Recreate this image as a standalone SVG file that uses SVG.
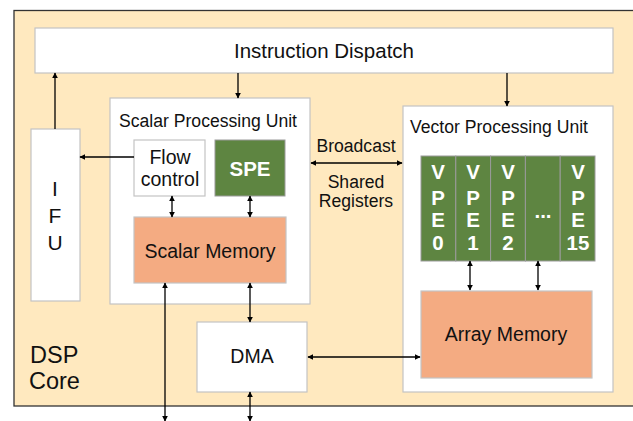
<svg xmlns="http://www.w3.org/2000/svg" width="633" height="421" viewBox="0 0 633 421">
  <style>
    text { font-family: "Liberation Sans", Arial, sans-serif; fill: #111; }
    .box { fill: #fff; stroke: #c4c4c4; stroke-width: 1.2; }
    .green { fill: #5e8541; stroke: #9a9a9a; stroke-width: 1; }
    .mem { fill: #f4ab82; stroke: #c4c4c4; stroke-width: 1.2; }
    .lbl { font-size: 17.6px; }
    .big { font-size: 20.5px; }
    .body { font-size: 19.5px; }
    .wt { fill: #fff; font-weight: bold; font-size: 20.5px; text-anchor: middle; }
    .mid { text-anchor: middle; }
    .wire { stroke: #000; stroke-width: 1.3; fill: none; }
  </style>
  <defs>
    <marker id="ah" viewBox="0 0 10 10" refX="9" refY="5" markerWidth="6" markerHeight="6" orient="auto-start-reverse" markerUnits="userSpaceOnUse">
      <path d="M0,0 L10,5 L0,10 z" fill="#000"/>
    </marker>
  </defs>

  <rect width="633" height="421" fill="#fff"/>

  <!-- DSP core container -->
  <g id="dsp-core">
    <rect x="14" y="10.5" width="630" height="395.5" fill="#ffe9bf" stroke="#333" stroke-width="1.3"/>
    <text x="30" y="363" font-size="23.5">DSP</text>
    <text x="29" y="389" font-size="23.5">Core</text>
  </g>

  <g id="instruction-dispatch">
    <rect class="box" x="35" y="28" width="578" height="45"/>
    <text class="big mid" x="324" y="58">Instruction Dispatch</text>
  </g>

  <g id="ifu">
    <rect class="box" x="31" y="129" width="49" height="172"/>
    <text class="mid" x="55" y="196" font-size="21">I</text>
    <text class="mid" x="55" y="223" font-size="21">F</text>
    <text class="mid" x="55" y="250" font-size="21">U</text>
  </g>

  <g id="scalar-unit">
    <rect class="box" x="110" y="98" width="200" height="206"/>
    <text class="lbl" x="119" y="127">Scalar Processing Unit</text>
  </g>

  <g id="flow-control">
    <rect class="box" x="134" y="140" width="71" height="56"/>
    <text class="body mid" x="170" y="164">Flow</text>
    <text class="body mid" x="170" y="186">control</text>
  </g>

  <g id="spe">
    <rect class="green" x="215" y="140" width="70" height="56"/>
    <text class="wt" x="250" y="176" font-size="21.5">SPE</text>
  </g>

  <g id="scalar-memory">
    <rect class="mem" x="134" y="217" width="152" height="66"/>
    <text class="body mid" x="210" y="258">Scalar Memory</text>
  </g>

  <g id="vector-unit">
    <rect class="box" x="403" y="106" width="210" height="286"/>
    <text class="lbl" x="410" y="133">Vector Processing Unit</text>
  </g>

  <g id="vpe-array">
    <rect class="green" x="421" y="156" width="34.8" height="105"/>
    <rect class="green" x="455.8" y="156" width="34.8" height="105"/>
    <rect class="green" x="490.6" y="156" width="34.8" height="105"/>
    <rect class="green" x="525.4" y="156" width="34.8" height="105"/>
    <rect class="green" x="560.2" y="156" width="34.8" height="105"/>
    <text class="wt" x="438" y="179">V</text><text class="wt" x="438" y="205">P</text><text class="wt" x="438" y="227">E</text><text class="wt" x="438" y="250">0</text>
    <text class="wt" x="473" y="179">V</text><text class="wt" x="473" y="205">P</text><text class="wt" x="473" y="227">E</text><text class="wt" x="473" y="250">1</text>
    <text class="wt" x="508" y="179">V</text><text class="wt" x="508" y="205">P</text><text class="wt" x="508" y="227">E</text><text class="wt" x="508" y="250">2</text>
    <text class="wt" x="543" y="218">...</text>
    <text class="wt" x="578" y="179">V</text><text class="wt" x="578" y="205">P</text><text class="wt" x="578" y="227">E</text><text class="wt" x="578" y="250">15</text>
  </g>

  <g id="array-memory">
    <rect class="mem" x="421" y="291" width="171" height="87"/>
    <text class="body mid" x="506" y="341">Array Memory</text>
  </g>

  <g id="dma">
    <rect class="box" x="197" y="322" width="110" height="70"/>
    <text class="body mid" x="252" y="363">DMA</text>
  </g>

  <g id="shared-registers">
    <text class="lbl mid" x="356" y="152">Broadcast</text>
    <text class="lbl mid" x="356" y="188">Shared</text>
    <text class="lbl mid" x="356" y="207">Registers</text>
  </g>

  <g id="connectors">
    <line class="wire" x1="55" y1="129" x2="55" y2="73" marker-end="url(#ah)"/>
    <line class="wire" x1="238" y1="73" x2="238" y2="98" marker-end="url(#ah)"/>
    <line class="wire" x1="507" y1="73" x2="507" y2="106" marker-end="url(#ah)"/>
    <line class="wire" x1="134" y1="157" x2="80" y2="157" marker-end="url(#ah)"/>
    <line class="wire" x1="172" y1="196" x2="172" y2="217" marker-start="url(#ah)" marker-end="url(#ah)"/>
    <line class="wire" x1="250" y1="196" x2="250" y2="217" marker-start="url(#ah)" marker-end="url(#ah)"/>
    <line class="wire" x1="311" y1="163" x2="402" y2="163" marker-start="url(#ah)" marker-end="url(#ah)"/>
    <line class="wire" x1="470" y1="261" x2="470" y2="290" marker-start="url(#ah)" marker-end="url(#ah)"/>
    <line class="wire" x1="538" y1="261" x2="538" y2="290" marker-start="url(#ah)" marker-end="url(#ah)"/>
    <line class="wire" x1="250" y1="283" x2="250" y2="322" marker-start="url(#ah)" marker-end="url(#ah)"/>
    <line class="wire" x1="165" y1="283" x2="165" y2="421" marker-start="url(#ah)" marker-end="url(#ah)"/>
    <line class="wire" x1="250" y1="392" x2="250" y2="421" marker-start="url(#ah)" marker-end="url(#ah)"/>
    <line class="wire" x1="308" y1="357" x2="420" y2="357" marker-start="url(#ah)" marker-end="url(#ah)"/>
  </g>
</svg>
